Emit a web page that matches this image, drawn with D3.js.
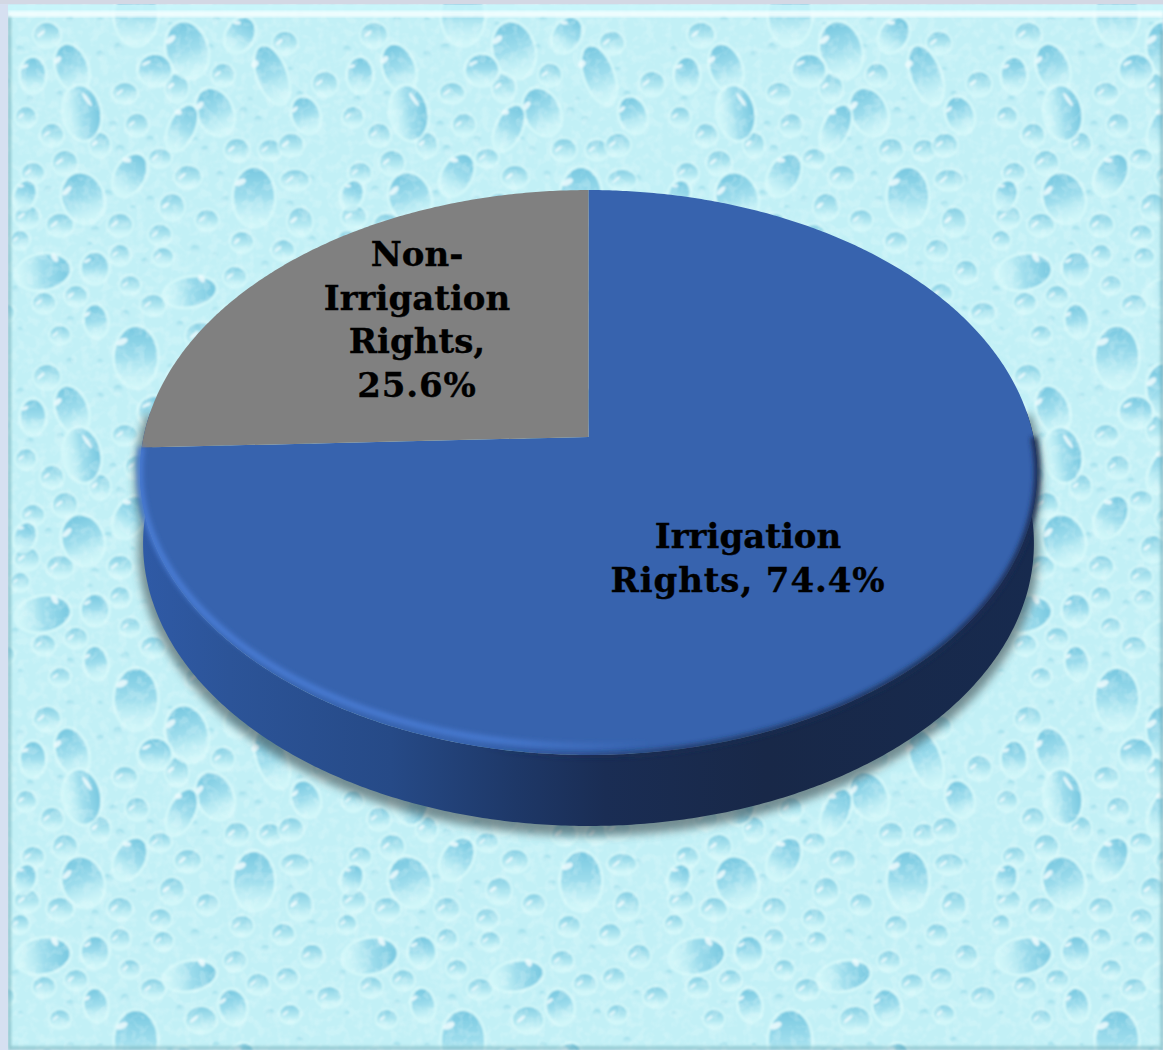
<!DOCTYPE html>
<html>
<head>
<meta charset="utf-8">
<script src="https://cdn.jsdelivr.net/npm/d3@7"></script>
<style>
html,body{margin:0;padding:0;background:#d6e0f1;overflow:hidden}
svg{display:block}
text{font-family:"DejaVu Serif",serif;font-weight:700;fill:#000;stroke:#000;stroke-width:.35px}
</style>
</head>
<body>
<svg id="chart" width="1163" height="1050"></svg>
<script>
// Share of water rights by use
const categories = ["Irrigation Rights", "Non-Irrigation Rights"];
const shares = [74.4, 25.6];
const labelWords = [["Irrigation", "Rights,"], ["Non-", "Irrigation", "Rights,"]];
const sliceColors = ["#3763ae", "#808080"];

// Water-drop wallpaper: [x, y, rx, ry, tilt] inside one repeating tile
const tileW = 327, tileH = 342;
const largeDrops = [
  [187,50,20,28,-15],[72,68,15,24,-20],[82,113,27,18,80],[272,75,14,30,-20],[215,112,17,24,-25],
  [182,128,12,24,25],[83,198,20,25,-20],[254,197,20,29,0],[130,175,14,22,30],[43,272,17,27,80],
  [190,292,14,26,80],[155,70,16,15,0],[240,35,13,18,30],[136,15,21,30,0],[96,321,11,16,-10],
  [233,323,13,17,-15],[306,115,13,18,-20],[33,75,12,17,0],[95,268,13,15,0],[25,195,10,14,20]
];
const mediumDrops = [
  [47,35,13,12],[285,43,12,11],[125,93,12,10],[177,88,11,14],[223,75,11,11],[26,117,10,10],
  [52,135,11,11],[137,125,11,11],[100,145,10,12],[65,163,12,12],[33,173,11,10],[160,158,11,9],
  [188,177,13,11],[237,150,12,11],[270,150,11,10],[120,225,12,11],[60,225,13,11],[27,217,12,11],
  [172,207,12,13],[160,235,11,10],[207,220,11,10],[242,242,11,10],[283,250,11,10],[120,255,10,10],
  [163,257,10,9],[235,277,11,10],[325,84,12,12],[295,180,14,10],[291,145,12,11],[44,303,11,10],
  [76,296,11,10],[153,305,12,10],[258,300,11,10],[287,294,11,10],[2,313,12,10],[201,336,15,13],
  [300,222,12,14],[312,272,11,11],[130,285,10,9],[60,335,10,9],[290,330,10,9],[20,240,9,9]
];
const smallDrops = [
  [100,55,4],[118,48,5],[140,40,3],[210,48,4],[216,20,4],[258,120,4],[243,112,5],[20,50,4],[30,100,4],
  [113,125,4],[120,150,5],[150,140,4],[205,150,4],[195,140,3],[300,95,4],[290,70,3],[250,100,3],[60,95,4],
  [48,190,4],[108,195,5],[150,200,4],[133,208,3],[220,175,4],[225,200,4],[290,205,4],[310,180,5],[95,230,4],
  [90,245,3],[145,262,4],[195,250,5],[215,255,3],[265,265,4],[312,240,4],[15,290,4],[70,320,4],[125,315,5],
  [180,325,4],[215,310,3],[270,330,5],[310,310,4],[20,330,3],[170,25,3],[300,15,4],[70,20,4],[100,20,3]
];

const svg = d3.select("#chart");
const W = +svg.attr("width"), H = +svg.attr("height");
const defs = svg.append("defs");

function gradient(id, stops, attrs = {}) {
  const g = defs.append("linearGradient").attr("id", id);
  Object.entries(attrs).forEach(([k, v]) => g.attr(k, v));
  stops.forEach(([o, c, a = 1]) => g.append("stop").attr("offset", o).attr("stop-color", c).attr("stop-opacity", a));
}
const blur = (id, s) => defs.append("filter").attr("id", id)
  .attr("x", "-10%").attr("y", "-10%").attr("width", "120%").attr("height", "120%")
  .append("feGaussianBlur").attr("stdDeviation", s);

gradient("dropFill", [[0,"#78c8e0",1],[0.5,"#9cdcec",0.95],[1,"#cdf5f9",0.3]], {x1:0,y1:0,x2:0,y2:1});
gradient("dropMid", [[0,"#86cfe3",1],[0.6,"#ade5f0",0.8],[1,"#d5f8fb",0.25]], {x1:0,y1:0,x2:0,y2:1});
gradient("dropSmall", [[0,"#93d8e8",0.9],[1,"#d8f8fb",0.3]], {x1:0,y1:0,x2:0,y2:1});
blur("soft", 0.8); blur("shadowBlur", 4.5); blur("rimBlur", 2.4); blur("frameBlur", 1.6);

// Fine vein-like mottling over the wallpaper
const veins = defs.append("filter").attr("id", "veins").attr("x", 0).attr("y", 0).attr("width", "100%").attr("height", "100%");
veins.append("feTurbulence").attr("type", "fractalNoise").attr("baseFrequency", 0.11).attr("numOctaves", 2).attr("seed", 4);
veins.append("feColorMatrix").attr("values", "0 0 0 0 0.9  0 0 0 0 1  0 0 0 0 1  3.6 0 0 0 -1.6");

// Repeating wallpaper tile; each drop is copied across the seams so none is cut off
const acrossSeams = list => list.flatMap(d => [-tileW, 0, tileW].flatMap(ox => [-tileH, 0, tileH].map(oy => {
  const c = d.slice(); c[0] += ox; c[1] += oy; return c;
})));
const pattern = defs.append("pattern").attr("id", "waterDrops").attr("patternUnits", "userSpaceOnUse")
  .attr("width", tileW).attr("height", tileH);
pattern.append("rect").attr("width", tileW).attr("height", tileH).attr("fill", "#c2f0f6");

pattern.selectAll(".small").data(acrossSeams(smallDrops)).join("circle").attr("class", "small")
  .attr("cx", d => d[0]).attr("cy", d => d[1]).attr("r", d => d[2]).attr("fill", "url(#dropSmall)");

pattern.selectAll(".medium").data(acrossSeams(mediumDrops)).join("g").attr("class", "medium")
  .attr("transform", d => `translate(${d[0]},${d[1]})`)
  .call(g => {
    g.append("ellipse").attr("rx", d => d[2] + 2).attr("ry", d => d[3] + 2).attr("fill", "#d9fafc").attr("opacity", 0.7);
    g.append("ellipse").attr("rx", d => d[2]).attr("ry", d => d[3]).attr("fill", "url(#dropMid)");
    g.append("ellipse").attr("cx", d => -d[2] * 0.3).attr("cy", d => -d[3] * 0.4)
      .attr("rx", d => d[2] * 0.36).attr("ry", d => d[3] * 0.13).attr("transform", "rotate(-40)")
      .attr("fill", "#effcfe").attr("opacity", 0.85);
  });

pattern.selectAll(".large").data(acrossSeams(largeDrops)).join("g").attr("class", "large")
  .attr("transform", d => `translate(${d[0]},${d[1]}) rotate(${d[4]})`)
  .call(g => {
    g.append("ellipse").attr("rx", d => d[2] + 3).attr("ry", d => d[3] + 3).attr("fill", "#d9fafc").attr("opacity", 0.7);
    g.append("ellipse").attr("rx", d => d[2]).attr("ry", d => d[3]).attr("fill", "url(#dropFill)");
    g.append("ellipse").attr("cx", d => -d[2] * 0.3).attr("cy", d => -d[3] * 0.66)
      .attr("rx", d => d[2] * 0.3).attr("ry", d => d[3] * 0.11).attr("transform", "rotate(-25)")
      .attr("fill", "#effcfe").attr("opacity", 0.85);
  });

// Page frame and wallpaper
svg.append("rect").attr("width", W).attr("height", H).attr("fill", "#d6e0f1");
svg.append("rect").attr("x", 8).attr("y", 4).attr("width", W - 8).attr("height", H - 4)
  .attr("fill", "url(#waterDrops)").attr("filter", "url(#soft)");
svg.append("rect").attr("x", 8).attr("y", 4).attr("width", W - 8).attr("height", H - 4)
  .attr("filter", "url(#veins)").attr("opacity", 0.2);
svg.append("rect").attr("x", 8).attr("y", 5).attr("width", W - 8).attr("height", 8).attr("fill", "#c9f6fb").attr("opacity", 0.8);
svg.append("rect").attr("x", 8).attr("y", 11).attr("width", W - 8).attr("height", 6).attr("fill", "#f4feff")
  .attr("opacity", 0.9).attr("filter", "url(#frameBlur)");
svg.append("path").attr("d", `M9.5 ${H}V17M${W - 1} 30V${H}M9 ${H - 2}H${W}`).attr("fill", "none")
  .attr("stroke", "#5f9fa9").attr("stroke-width", 3).attr("opacity", 0.55).attr("filter", "url(#frameBlur)");
svg.append("rect").attr("x", 0).attr("y", 0).attr("width", 8).attr("height", H).attr("fill", "#d6e0f1");
svg.append("rect").attr("x", 0).attr("y", 0).attr("width", W).attr("height", 4).attr("fill", "#d3d8e4");

// Tilted disc: a projection whose centre of perspective sits above the ellipse middle
const cx = 588.5, cy = 437, a = 445, b = 278, k = -0.1257, depth = 71, baseTaper = 0.993;
const project = t => {
  const u = Math.sin(t), v = -Math.cos(t), w = 1 + k * v;
  return { x: cx + a * u / w, y: cy + b * v / w, v };
};
const step = Math.PI / 360;
const sweep = (t0, t1) => d3.range(t0, t1, step).concat([t1]).map(project);

const pie = d3.pie().sort(null).value(d => d).startAngle(0).endAngle(2 * Math.PI);
const arcs = pie(shares);
const line = d3.line().x(d => d.x).y(d => d.y);

// Wall of the disc, running round the near side and narrowing slightly towards its base
const wall = sweep(Math.PI * 0.47, Math.PI * 1.53);
const wallTop = wall.map(p => [p.x, p.y]);
const wallBase = wall.map(p => [cx + (p.x - cx) * baseTaper, p.y + depth]).reverse();
const wallPath = d3.line()([...wallTop, ...wallBase]) + "Z";

gradient("wallFill", [
  [0, "#2f5aa6"], [0.1, "#2c5498"], [0.28, "#264a87"], [0.42, "#1e3868"], [0.52, "#1a2d54"], [0.7, "#182848"], [1, "#172a4e"]
], { gradientUnits: "userSpaceOnUse", x1: 140, y1: 0, x2: 1035, y2: 0 });

svg.append("path").attr("d", wallPath).attr("fill", "#3c4c4f").attr("stroke", "#3c4c4f")
  .attr("stroke-width", 10).attr("opacity", 0.6).attr("transform", "translate(0,5)").attr("filter", "url(#shadowBlur)");
svg.append("path").attr("d", wallPath).attr("fill", "url(#wallFill)");

// Top face, one path per category
const slicePath = d => line([{ x: cx, y: cy }, ...sweep(d.startAngle, d.endAngle)]) + "Z";
svg.selectAll(".slice").data(arcs).join("path").attr("class", "slice")
  .attr("d", slicePath).attr("fill", (d, i) => sliceColors[i]);

// Bevel along the near edge: dark on the shaded side, a light glint on the lit side
gradient("edgeShade", [[0, "#1a2c52", 0], [0.35, "#1a2c52", 0.7], [1, "#1a2c52", 1]],
  { gradientUnits: "userSpaceOnUse", x1: 480, y1: 0, x2: 1035, y2: 0 });
svg.append("path").attr("d", line(sweep(Math.PI * 0.5, Math.PI * 1.1)))
  .attr("fill", "none").attr("stroke", "url(#edgeShade)").attr("stroke-width", 6).attr("filter", "url(#rimBlur)");

gradient("glint", [[0, "#4a7dd6", 1], [0.7, "#4a7dd6", 0.85], [1, "#4a7dd6", 0]],
  { gradientUnits: "userSpaceOnUse", x1: 140, y1: 0, x2: 650, y2: 0 });
const glintPts = sweep(Math.PI * 0.95, arcs[0].endAngle).map(p => ({ x: p.x, y: p.y - 9 * Math.max(p.v, 0) }));
svg.append("path").attr("d", line(glintPts)).attr("fill", "none").attr("stroke", "url(#glint)")
  .attr("stroke-width", 6).attr("filter", "url(#rimBlur)");

// Data labels
const labelAnchors = [[748, 548], [417, 266]];
const lineGap = 43.5;
svg.selectAll(".label").data(categories).join("text").attr("class", "label")
  .attr("text-anchor", "middle").attr("font-size", 34)
  .attr("x", (d, i) => labelAnchors[i][0]).attr("y", (d, i) => labelAnchors[i][1])
  .each(function (d, i) {
    const words = labelWords[i];
    const value = shares[i].toFixed(1) + "%";
    const rows = i === 0 ? [words[0], `${words[1]} ${value}`] : [...words, value];
    d3.select(this).selectAll("tspan").data(rows).join("tspan")
      .attr("x", labelAnchors[i][0]).attr("dy", (r, j) => j ? lineGap : 0)
      .attr("letter-spacing", r => /\d/.test(r) ? 0.9 : 0).text(r => r);
  });
</script>
</body>
</html>
